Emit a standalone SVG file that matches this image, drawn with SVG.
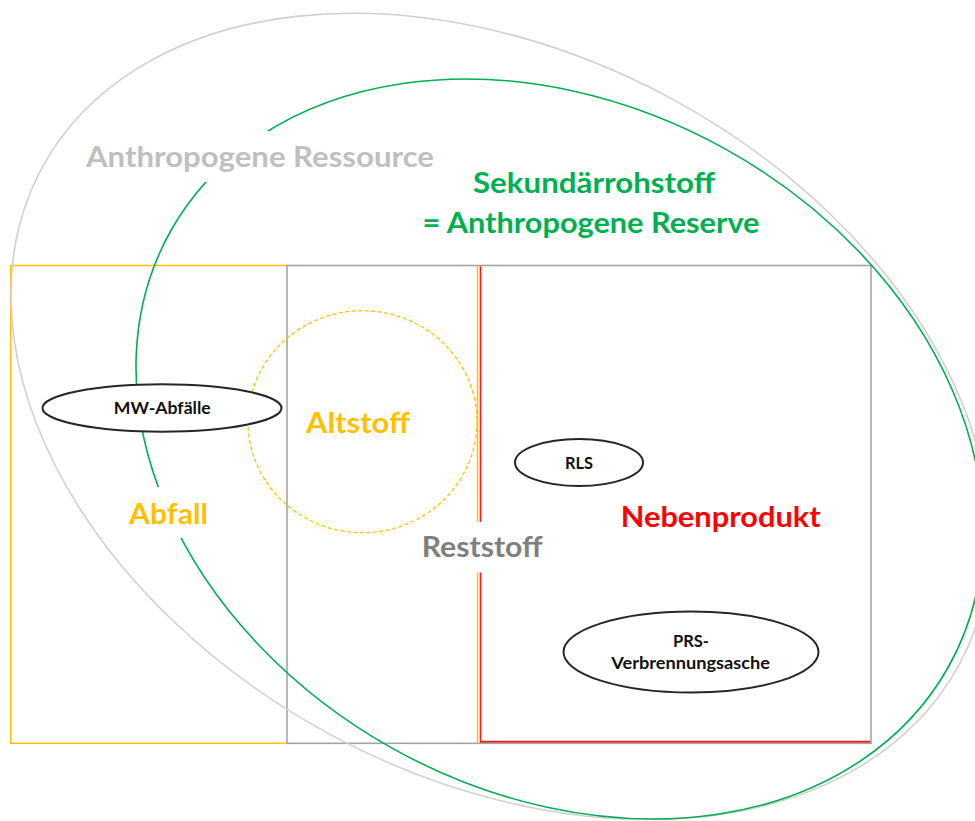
<svg xmlns="http://www.w3.org/2000/svg" width="975" height="821" viewBox="0 0 975 821">
<style>
text { font-family: Lato, "Liberation Sans", sans-serif; font-weight: bold; text-anchor: middle; }
.big { font-size: 28px; }
.small { font-size: 17px; fill: #111111; }
.box { fill: #ffffff; stroke: none; }
.node { fill: #ffffff; stroke: #262626; stroke-width: 2; }
.line { fill: none; }
</style>
<rect x="0" y="0" width="975" height="821" fill="#ffffff"/>

<g id="abfall">
  <path class="line" d="M287,265.5 H10.7 V743.3 H287" stroke="#FFC000" stroke-width="1.5"/>
  <line x1="477.5" y1="265.5" x2="477.5" y2="743" stroke="#FFC000" stroke-width="1.5"/>
</g>
<g id="nebenprodukt">
  <line x1="480.5" y1="265.5" x2="480.5" y2="742" stroke="#FF1A1A" stroke-width="1.6"/>
  <line x1="480" y1="742" x2="871" y2="742" stroke="#FF1A1A" stroke-width="2.6"/>
</g>
<g id="reststoff">
  <rect class="line" x="287" y="265.5" width="584" height="477.8" stroke="#A5A5A5" stroke-width="1.6"/>
</g>

<g id="anthropogene-ressource">
  <ellipse class="line" cx="500.5" cy="416.4" rx="521.5" ry="360.8" transform="rotate(28.52 500.5 416.4)" stroke="#D0D0D0" stroke-width="1.6"/>
</g>
<g id="sekundaerrohstoff">
  <ellipse class="line" cx="559.5" cy="449" rx="445.8" ry="342.8" transform="rotate(29.24 559.5 449)" stroke="#00B050" stroke-width="1.6"/>
</g>

<g id="labels">
  <rect class="box" x="80" y="131" width="360" height="51"/>
  <text class="big" x="260" y="167" textLength="348" lengthAdjust="spacingAndGlyphs" fill="#BFBFBF">Anthropogene Ressource</text>
  <text class="big" x="594" y="193" textLength="242" lengthAdjust="spacingAndGlyphs" fill="#00B050">Sekundärrohstoff</text>
  <text class="big" x="591" y="232.5" textLength="337" lengthAdjust="spacingAndGlyphs" fill="#00B050">= Anthropogene Reserve</text>
  <rect class="box" x="118" y="487" width="100" height="51"/>
  <text class="big" x="168.5" y="524" textLength="79" lengthAdjust="spacingAndGlyphs" fill="#FFC000">Abfall</text>
  <rect class="box" x="415" y="522" width="135" height="50.5"/>
  <text class="big" x="482.2" y="557.3" textLength="121" lengthAdjust="spacingAndGlyphs" fill="#7F7F7F">Reststoff</text>
  <text class="big" x="720.7" y="526.7" textLength="200" lengthAdjust="spacingAndGlyphs" fill="#FF0000">Nebenprodukt</text>
</g>

<g id="altstoff">
  <ellipse class="line" cx="362.5" cy="421.7" rx="114.5" ry="111" stroke="#FFC000" stroke-width="1.3" stroke-dasharray="4 2.5"/>
  <text class="big" x="358" y="432.7" textLength="104" lengthAdjust="spacingAndGlyphs" fill="#FFC000">Altstoff</text>
</g>

<g id="mw-abfaelle">
  <ellipse class="node" cx="162" cy="408" rx="119.5" ry="23.7"/>
  <text class="small" x="162.3" y="413.5" textLength="97" lengthAdjust="spacingAndGlyphs">MW-Abfälle</text>
</g>
<g id="rls">
  <ellipse class="node" cx="579" cy="462.5" rx="64" ry="23.5"/>
  <text class="small" x="579" y="469" textLength="28" lengthAdjust="spacingAndGlyphs">RLS</text>
</g>
<g id="prs-verbrennungsasche">
  <ellipse class="node" cx="691" cy="652" rx="127.5" ry="40.5"/>
  <text class="small" x="691" y="647.3" textLength="36" lengthAdjust="spacingAndGlyphs">PRS-</text>
  <text class="small" x="690.7" y="669.3" textLength="158.7" lengthAdjust="spacingAndGlyphs">Verbrennungsasche</text>
</g>

<g id="connectors"></g>
</svg>
